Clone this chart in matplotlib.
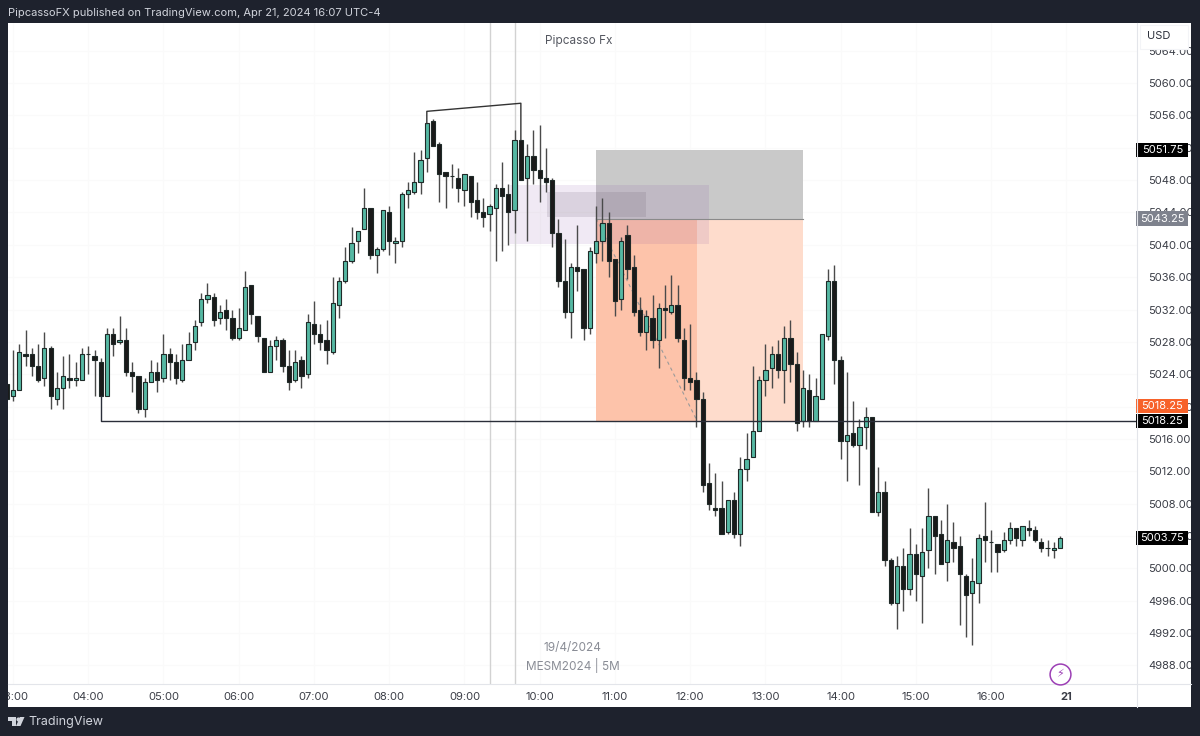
"""TradingView style MESM2024 5M chart, 19/4/2024."""
import matplotlib
matplotlib.use("Agg")
import matplotlib.pyplot as plt
import numpy as np
from matplotlib.patches import Polygon, Rectangle
from matplotlib.transforms import blended_transform_factory

plt.rcParams["font.family"] = ["Inter", "DejaVu Sans"]

# ---------- candles, 5 minute bars ----------
opens = [
    5022.75, 5021.25, 5022, 5026.5, 5026.5, 5025, 5023.5, 5027.25, 5021, 5022.25, 5023.5, 5023.25,
    5023.25, 5026.5, 5026.25, 5025.5, 5021.25, 5029, 5028, 5028.25, 5024.25, 5023.75, 5019.75, 5023,
    5024.25, 5023.5, 5026.5, 5025.5, 5023.25, 5025.75, 5028, 5030.5, 5033.25, 5033.5, 5031, 5032,
    5031, 5028.5, 5029.5, 5035, 5031.25, 5028.5, 5024.25, 5027.5, 5028.25, 5025, 5023.25, 5025.75,
    5024, 5030.25, 5029, 5028.25, 5026.75, 5032.5, 5035.5, 5038, 5040.5, 5042, 5044.5, 5038.75,
    5039.5, 5044, 5040.25, 5040.5, 5046.25, 5046.5, 5047.75, 5050.75, 5055.25, 5052.5, 5049, 5048.5,
    5048.25, 5046.75, 5048.5, 5045.5, 5044, 5043.75, 5044.5, 5047, 5046.25, 5044.25, 5053, 5048.25,
    5051, 5049.25, 5048.25, 5048, 5041.5, 5035.5, 5031.75, 5037.25, 5037, 5029.75, 5039, 5040.5,
    5042.75, 5038.25, 5033.25, 5041.25, 5037.25, 5032, 5029.25, 5031, 5028.25, 5032.25, 5031.75, 5032.5,
    5028.25, 5023.5, 5023.25, 5021, 5010.5, 5007.5, 5007.5, 5004.5, 5008.5, 5004.25, 5012.25, 5013.75,
    5017, 5023.25, 5024.75, 5026.5, 5024.5, 5028.5, 5025.25, 5018.25, 5022, 5018.25, 5021, 5028.75,
    5035.5, 5025.75, 5015.75, 5016.75, 5015.25, 5017.5, 5018.75, 5007, 5009.5, 5001, 4995.75, 5000.25,
    4997.5, 5001.75, 4999, 5002.25, 5006.5, 5004.25, 5000.75, 5003.25, 5002.75, 4999, 4997, 4998.25,
    5004, 5003.25, 5003, 5002.25, 5003.5, 5005, 5003.5, 5005, 5004.75, 5003.25, 5002.5, 5002.25, 5002.5,
]
highs = [
    5022.75, 5027, 5027.75, 5029.5, 5027.25, 5027.75, 5029.25, 5027.5, 5024.25, 5026.25, 5026.5, 5025.5,
    5027.25, 5027.5, 5027, 5026, 5029.75, 5029.75, 5031.25, 5029.75, 5025.5, 5023.75, 5023.5, 5025.75,
    5025.5, 5029, 5027.25, 5026.5, 5027.75, 5029.25, 5030.75, 5034, 5035.25, 5034, 5032.5, 5033.25,
    5032, 5032.25, 5036.75, 5035, 5031.25, 5028.5, 5028.25, 5028.75, 5028.5, 5027, 5027, 5026.25,
    5031.5, 5033, 5030.25, 5030.75, 5036, 5036, 5039.75, 5042.25, 5041.75, 5047, 5044.5, 5039.75,
    5044.25, 5044.75, 5041, 5046.5, 5047.75, 5051.5, 5051.75, 5055, 5055.5, 5052.75, 5049, 5050,
    5049.5, 5048.75, 5048.5, 5047.75, 5045.75, 5045, 5047.5, 5050.25, 5047.5, 5054.25, 5053, 5052.5,
    5054.25, 5054.75, 5052, 5048.25, 5043.25, 5040.75, 5037.75, 5042.5, 5037, 5039.75, 5044.75, 5045.75,
    5044, 5038.25, 5041, 5042.5, 5038.75, 5033.5, 5032, 5033.75, 5032.75, 5035, 5036.25, 5035,
    5029.75, 5030.25, 5024.25, 5021.75, 5013, 5011.75, 5010.75, 5008.5, 5009.5, 5013.75, 5016.75, 5025,
    5023.75, 5027.75, 5027.5, 5028.25, 5030, 5030.75, 5026.75, 5024.5, 5024, 5023.5, 5029, 5037,
    5037.5, 5026.25, 5024.25, 5020.75, 5018.5, 5020, 5018.75, 5012.5, 5010.75, 5001.25, 5001.5, 5002.5,
    5005, 5003, 5005, 5010, 5006.5, 5006, 5008, 5005.75, 5004, 4999.25, 5001.25, 5004.25,
    5008.25, 5004.75, 5003, 5004.5, 5005.75, 5005, 5005.25, 5006, 5005.25, 5003.75, 5003.5, 5003.25, 5004,
]
lows = [
    5021, 5020.75, 5022, 5025, 5023.75, 5023, 5022.5, 5019.75, 5020.25, 5019.75, 5022.25, 5022.5,
    5023.25, 5024, 5021.25, 5021.25, 5021.25, 5026.25, 5027.75, 5023.75, 5021.75, 5019.25, 5018.75, 5023,
    5021.75, 5023, 5023.25, 5022.75, 5023, 5025.75, 5027, 5030, 5032.75, 5030, 5030.25, 5029.5,
    5028.25, 5028.25, 5029.5, 5030.25, 5028, 5024.25, 5024.25, 5025.75, 5024.25, 5022, 5023, 5022.25,
    5023.5, 5027.75, 5027, 5025.25, 5026.5, 5031, 5035.25, 5037.75, 5039, 5042, 5038.25, 5036.5,
    5039.25, 5038.75, 5037.75, 5039.75, 5044.5, 5046.25, 5046.25, 5049, 5052.25, 5045.25, 5044.5, 5047,
    5045.25, 5044.75, 5043.5, 5043.25, 5042.25, 5041.75, 5038, 5039.25, 5040, 5041.5, 5048, 5040.5,
    5047.5, 5045.25, 5046.5, 5039.75, 5034.75, 5031, 5028.5, 5034.25, 5028.25, 5029, 5037.75, 5038,
    5036, 5031.25, 5032, 5035.75, 5031.25, 5028.75, 5027, 5027.25, 5024.75, 5028.5, 5031.5, 5028,
    5022, 5022, 5017.5, 5009.5, 5007.25, 5006.5, 5004.25, 5004.25, 5003.75, 5002.75, 5010.75, 5013.75,
    5017, 5021.25, 5022.25, 5023.5, 5020.5, 5023, 5017, 5017.5, 5017.5, 5018.25, 5021, 5028.25,
    5022.75, 5013.5, 5010.75, 5015, 5010.25, 5014.75, 5007, 5006.5, 5000.25, 4995.5, 4992.5, 4994.75,
    4996.75, 4996, 4993.25, 5000, 4999.25, 5000.5, 4998.5, 5000.75, 4993, 4991.5, 4990.5, 4995.75,
    5000.75, 4999.5, 4999.5, 5002, 5003, 5002.75, 5002.75, 5004, 5003.25, 5002, 5001.5, 5001.25, 5002.5,
]
closes = [
    5021, 5022, 5026.75, 5026.25, 5025, 5023.25, 5027.25, 5021.25, 5022.25, 5023.75, 5023.25, 5023.5,
    5026.5, 5026.5, 5025.75, 5021.25, 5029, 5027.75, 5028.25, 5024.25, 5023.75, 5019.75, 5023, 5024.25,
    5023.25, 5026.5, 5025.5, 5023.5, 5025.75, 5027.75, 5030, 5033.25, 5033.75, 5030.75, 5031.75, 5031,
    5028.5, 5029.75, 5034.75, 5031.5, 5028.75, 5024.25, 5027.5, 5028.25, 5025, 5023, 5025.5, 5023.75,
    5030.5, 5029, 5028, 5027, 5032.75, 5035.5, 5038, 5040.25, 5041.75, 5044.5, 5038.75, 5039.5,
    5044.25, 5040.5, 5040.5, 5046.25, 5046.75, 5047.75, 5050.5, 5055, 5052.25, 5048.75, 5048.5, 5048.5,
    5047, 5048.75, 5045.25, 5044, 5043.5, 5044.75, 5047, 5046, 5044, 5053, 5048, 5051,
    5049.25, 5048.25, 5047.75, 5041.5, 5035.5, 5031.75, 5037.25, 5036.75, 5029.75, 5039.25, 5040.5, 5042.75,
    5038, 5033, 5040.5, 5037, 5031.75, 5029.25, 5031.25, 5028.25, 5032.25, 5032, 5032.5, 5028.5,
    5023.5, 5023, 5021, 5010.25, 5008, 5007.25, 5004.25, 5008.5, 5004.25, 5012.25, 5013.5, 5017,
    5023.25, 5024.5, 5026.5, 5024.5, 5028.5, 5025.25, 5018, 5022.25, 5018.25, 5021.25, 5029, 5035.5,
    5025.75, 5015.75, 5016.5, 5015.25, 5017.5, 5018.75, 5007, 5009.5, 5001, 4995.75, 5000.25, 4997.5,
    5001.75, 4999.25, 5002, 5006.5, 5004, 5000.5, 5003.5, 5002.5, 4999.25, 4996.75, 4998.5, 5003.75,
    5003.5, 5003.25, 5002, 5003.5, 5005, 5003.75, 5005.25, 5004.75, 5003.5, 5002.5, 5002.5, 5002.5, 5003.75,
]

# axis labels
price_ticks = np.arange(4988, 5065, 4)
time_ticks = [1, 13, 25, 37, 49, 61, 73, 85, 97, 109, 121, 133, 145, 157, 169]
time_labels = ["03:00", "04:00", "05:00", "06:00", "07:00", "08:00", "09:00", "10:00",
               "11:00", "12:00", "13:00", "14:00", "15:00", "16:00", "21"]

# drawings, prices
entry, stop, target = 5043.25, 5051.75, 5018.25
last_price = 5003.75
tag_prices = [stop, entry, target, target, last_price]
tag_colors = ["#000000", "#7e828d", "#f7622a", "#000000", "#000000"]
tag_shift = [0, 0, 1.8, 0, 0]

DARK = "#1e222d"
TEAL = "#55b8a3"
BLACK = "#1a1a1a"
W, H = 1200, 736


def px_box(left, top, right, bottom):
    """figure fractions from pixel edges"""
    return [left / W, 1 - bottom / H, (right - left) / W, (bottom - top) / H]


fig = plt.figure(figsize=(12, 7.36), dpi=100, facecolor=DARK)

# white chart card behind everything
back = fig.add_axes([0, 0, 1, 1], zorder=0)
back.set_xlim(0, W)
back.set_ylim(H, 0)
back.axis("off")
back.add_patch(Rectangle((8, 23), 1183, 684, color="white", lw=0))

# ---------- main pane ----------
ax = fig.add_axes(px_box(8, 23, 1137, 684), zorder=1)
ax.patch.set_alpha(0)
ax.set_xlim(0.2, 180.27)
ax.set_ylim(4985.71, 5067.42)
for s in ax.spines.values():
    s.set_visible(False)

ax.set_xticks(time_ticks, time_labels)
ax.yaxis.tick_right()
ax.set_yticks(price_ticks, [f"{p:.2f}" for p in price_ticks])
ax.tick_params(axis="both", length=0, labelsize=8, labelcolor="#3a3d46")
ax.tick_params(axis="x", pad=6)
ax.tick_params(axis="y", pad=8)
ax.get_xticklabels()[-1].set_fontweight("bold")
ax.grid(color="#fafafa", lw=0.8)
ax.set_axisbelow(True)

# position tool, zones, order blocks
ax.add_patch(Rectangle((94, entry), 33, stop - entry, color="#c9c9c9", lw=0, zorder=1))
ax.add_patch(Rectangle((94, target), 33, entry - target, color="#fedccc", lw=0, zorder=1))
ax.add_patch(Rectangle((94, target), 16.1, entry - target, color="#fdc3aa", lw=0, zorder=1.1))
ax.add_patch(Rectangle((80.3, 5040.1), 31.7, 7.3, color="#7b3f9e", alpha=0.11, lw=0, zorder=1.2))
ax.add_patch(Rectangle((86.2, 5043.45), 15.8, 3.05, color="#5a4a60", alpha=0.14, lw=0, zorder=1.3))
ax.plot([94, 127], [entry, entry], color="#8a8a8a", lw=0.8, zorder=1.4)
ax.plot([94, 110.1], [entry, target], color="#9a9a9a", lw=0.8, ls=(0, (3, 3)), zorder=1.4)

ax.axvline(77, color="#d2d2d2", lw=1, zorder=1.5)
ax.axvline(81, color="#d2d2d2", lw=1, zorder=1.5)

# candles
x = np.arange(len(opens))
o, h, l, c = map(np.array, (opens, highs, lows, closes))
up = c > o
ax.vlines(x, l, h, color="#4a4a4a", lw=1, zorder=2)
ax.bar(x, np.abs(c - o), bottom=np.minimum(o, c), width=0.68,
       color=np.where(up, TEAL, BLACK), edgecolor="#1f2a28", lw=0.8, zorder=3)

# swing high and level lines
ax.plot([67, 67, 82, 82], [5055, 5056.5, 5057.5, 5053], color="#333333", lw=1, zorder=4)
ax.plot([15, 15, 180.27], [5021.25, target, target], color="#2a2e39", lw=1, zorder=4)

# labels inside the pane
ax.text(91.2, 5060 + (83 - 41) / 8.09, "Pipcasso Fx", color="#555861", fontsize=8.5, ha="center", va="center")
ax.text(90.3, 5060 - (648 - 83) / 8.09, "19/4/2024", color="#8a8d96", fontsize=8.5, ha="center", va="center")
ax.text(90.3, 5060 - (666 - 83) / 8.09, "MESM2024 | 5M", color="#8a8d96", fontsize=8.5, ha="center", va="center")

# ---------- price tags ----------
tag_tf = blended_transform_factory(ax.transAxes, ax.transData)
for p, col, shift in zip(tag_prices, tag_colors, tag_shift):
    ax.add_patch(Rectangle((0.999, p + shift - 0.87), 0.046, 1.74, transform=tag_tf,
                           color=col, lw=0, clip_on=False, zorder=6))
    ax.text(1.0225, p + shift, f"{p:.2f}", transform=tag_tf, color="white", fontsize=8,
            ha="center", va="center", zorder=7)

# ---------- frame on top, pixel coordinates ----------
top = fig.add_axes([0, 0, 1, 1], zorder=2)
top.patch.set_alpha(0)
top.set_xlim(0, W)
top.set_ylim(H, 0)
top.axis("off")
top.add_patch(Rectangle((0, 0), W, 23, color=DARK, lw=0))
top.add_patch(Rectangle((0, 707), W, 29, color=DARK, lw=0))
top.add_patch(Rectangle((0, 0), 8, H, color=DARK, lw=0))
top.add_patch(Rectangle((1191, 0), 9, H, color=DARK, lw=0))
top.plot([8, 1191], [684, 684], color="#e3e5ea", lw=0.8)
top.plot([1137, 1137], [23, 707], color="#e3e5ea", lw=0.8)
top.add_patch(Rectangle((1140, 25), 48, 24, facecolor="white", edgecolor="#f3f4f7", lw=0.8, zorder=3))
top.text(1147, 36, "USD", color="#2a2e39", fontsize=8, ha="left", va="center", zorder=4)

top.text(8, 13, "PipcassoFX published on TradingView.com, Apr 21, 2024 16:07 UTC-4",
         color="#d1d4dc", fontsize=8, ha="left", va="center")
top.text(28, 722, "TradingView", color="#d1d4dc", fontsize=9, ha="left", va="center")

# TradingView logo
top.add_patch(Polygon([(8, 717), (16, 717), (16, 726), (12, 726), (12, 721), (8, 721)], color="#d1d4dc", lw=0))
top.plot([17.5], [719], "o", ms=3, color="#d1d4dc", mew=0)
top.add_patch(Polygon([(20, 717), (24.5, 717), (20.5, 726), (16, 726)], color="#d1d4dc", lw=0))

# bolt badge
top.plot([1060], [674], "o", ms=15, mfc="white", mec="#9c3fb5", mew=1.1)
top.text(1060, 674, "\u26a1", color="#9c3fb5", fontsize=8, ha="center", va="center",
         family="DejaVu Sans")

fig.savefig("out.png", dpi=100, facecolor=DARK)
